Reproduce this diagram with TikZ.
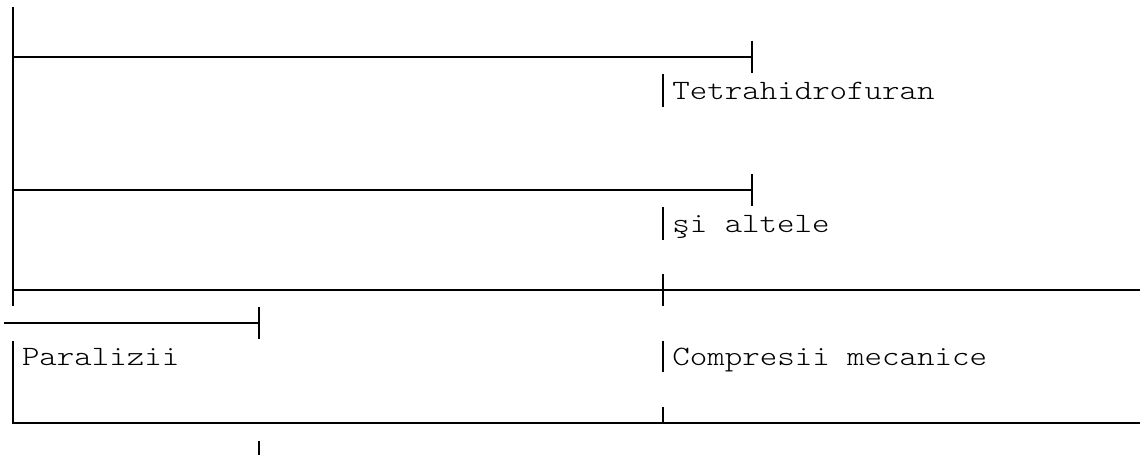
\documentclass[tikz,border=0pt]{standalone}
\usepackage{fontspec}
\setmonofont[FakeStretch=1.19]{Latin Modern Mono Light}

\tikzset{
  boxline/.style={line width=2pt, black},
  leaf/.style={anchor=base west, inner sep=0pt, font=\ttfamily\fontsize{28}{33}\selectfont}
}

\begin{document}
\begin{tikzpicture}[x=1pt,y=-1pt]
\useasboundingbox (0,0) rectangle (1140,455);

\node[leaf] (thf) at (672.1,99.5) {Tetrahidrofuran};
\node[leaf] (others) at (672.1,232.5) {şi altele};
\node[leaf] (paral) at (21.8,365) {Paralizii};
\node[leaf] (compr) at (672.1,365) {Compresii mecanice};

% trunk on the left
\draw[boxline] (13,7.3) -- (13,306);

% first branch
\draw[boxline] (13,57) -- (752,57);
\draw[boxline] (752,40.7) -- (752,72.7);
\draw[boxline] (663.3,74) -- (663.3,106.5);

% second branch
\draw[boxline] (13,190) -- (752,190);
\draw[boxline] (752,174) -- (752,206);
\draw[boxline] (663.3,207.3) -- (663.3,239.7);

% long branch
\draw[boxline] (13,290) -- (1140,290);
\draw[boxline] (663.3,274) -- (663.3,306);

% short branch
\draw[boxline] (4.3,323) -- (259,323);
\draw[boxline] (259,307.3) -- (259,339.3);

% lower box
\draw[boxline] (13,340.7) -- (13,423.3) -- (1140,423.3);
\draw[boxline] (663.3,340.7) -- (663.3,372.3);
\draw[boxline] (663.3,407.3) -- (663.3,423.3);
\draw[boxline] (259,440.7) -- (259,455);
\end{tikzpicture}
\end{document}
